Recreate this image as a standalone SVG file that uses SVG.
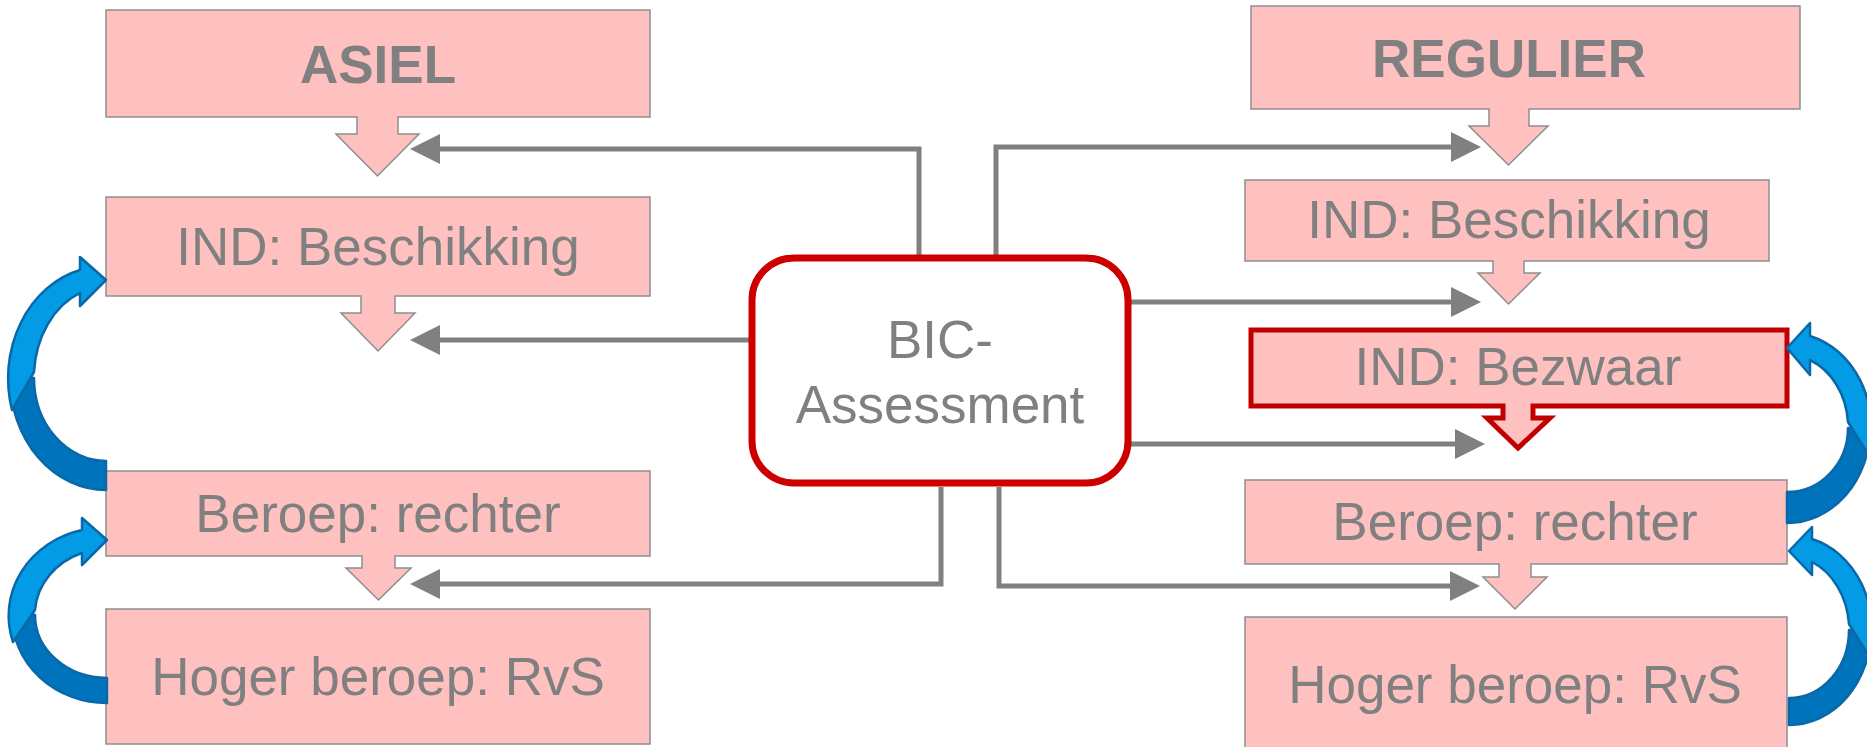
<svg xmlns="http://www.w3.org/2000/svg" width="1867" height="747" viewBox="0 0 1867 747">
<style>
.box{fill:#FFC0C0;stroke:#8E8E8E;stroke-width:1.5}
.hl{fill:#FFC0C0;stroke:#C00000;stroke-width:5;stroke-linejoin:miter}
.bic{fill:#FFFFFF;stroke:#CC0000;stroke-width:7}
.t{font-family:"Liberation Sans",Arial,sans-serif;font-size:53px;fill:#808080;text-anchor:middle}
.b{font-weight:bold}
.conn{fill:none;stroke:#808080;stroke-width:5;marker-end:url(#ah)}
.dk{fill:#0073BD;stroke:#0A68A8;stroke-width:2.5;stroke-linejoin:round}
.lt{fill:#049BE6;stroke:#0A68A8;stroke-width:2.5;stroke-linejoin:round}
</style>
<defs>
<marker id="ah" markerUnits="userSpaceOnUse" markerWidth="30" markerHeight="30" viewBox="0 0 30 30" refX="1" refY="15" orient="auto">
<path d="M0,0 L30,15 L0,30 Z" fill="#808080"/>
</marker>
</defs>
<rect width="1867" height="747" fill="#FFFFFF"/>

<g id="connectors">
<path class="conn" d="M919,256 V149 H439"/>
<path class="conn" d="M750,340 H439"/>
<path class="conn" d="M941,487 V584 H439"/>
<path class="conn" d="M996,256 V147 H1452"/>
<path class="conn" d="M1129,302 H1452"/>
<path class="conn" d="M1129,444 H1456"/>
<path class="conn" d="M999,487 V586 H1451"/>
</g>

<g id="asiel">
<path class="box" d="M106,10 H650 V117 H398 V134 H419 L377.5,176 L336,134 H357 V117 H106 Z"/>
<text class="t b" x="378" y="83">ASIEL</text>
</g>
<g id="asiel-ind">
<path class="box" d="M106,197 H650 V296 H395 V313 H415 L378,351 L341,313 H361 V296 H106 Z"/>
<text class="t" x="378" y="265">IND: Beschikking</text>
</g>
<g id="asiel-beroep">
<path class="box" d="M106,471 H650 V556 H395 V568 H411 L378.5,600 L346,568 H362 V556 H106 Z"/>
<text class="t" x="378" y="532">Beroep: rechter</text>
</g>
<g id="asiel-hoger">
<rect class="box" x="106" y="609" width="544" height="135"/>
<text class="t" x="378" y="695">Hoger beroep: RvS</text>
</g>

<g id="regulier">
<path class="box" d="M1251,6 H1800 V109 H1529 V126 H1548 L1508.5,165 L1469,126 H1489 V109 H1251 Z"/>
<text class="t b" x="1509" y="77">REGULIER</text>
</g>
<g id="regulier-ind">
<path class="box" d="M1245,180 H1769 V261 H1524 V273 H1540 L1508.5,304 L1478,273 H1493 V261 H1245 Z"/>
<text class="t" x="1509" y="238">IND: Beschikking</text>
</g>
<g id="regulier-bezwaar">
<path class="hl" d="M1251,330 H1787 V406 H1533 V418 H1550 L1518,448 L1487,418 H1503 V406 H1251 Z"/>
<text class="t" x="1518" y="385">IND: Bezwaar</text>
</g>
<g id="regulier-beroep">
<path class="box" d="M1245,480 H1787 V564 H1531 V577 H1547 L1515,609 L1483,577 H1499 V564 H1245 Z"/>
<text class="t" x="1515" y="540">Beroep: rechter</text>
</g>
<g id="regulier-hoger">
<rect class="box" x="1245" y="617" width="542" height="140"/>
<text class="t" x="1515" y="703">Hoger beroep: RvS</text>
</g>

<g id="bic">
<rect class="bic" x="752" y="258" width="376" height="225" rx="42" ry="42"/>
<text class="t" x="940" y="358">BIC-</text>
<text class="t" x="940" y="423">Assessment</text>
</g>

<g id="loop-asiel-1">
<path class="dk" d="M106,490 A96,112 0 0 1 10,378 L34,378 A72,83 0 0 0 106,461 Z"/>
<path class="lt" d="M80,270 L80,257 L106,280 L80,306 L80,293 A72,91 0 0 0 34,372 L12,410 A96,112 0 0 1 80,270 Z"/>
</g>
<g id="loop-asiel-2">
<path class="dk" d="M107,703 A95,88 0 0 1 12,615 L35,615 A72,63 0 0 0 107,678 Z"/>
<path class="lt" d="M82,530 L82,518 L107,540 L82,565 L82,553 A72,66 0 0 0 35,610 L13,642 A95,88 0 0 1 82,530 Z"/>
</g>
<g id="loop-regulier-1">
<path class="dk" d="M1787,523 A83,95 0 0 0 1870,428 L1848,428 A61,64 0 0 1 1787,492 Z"/>
<path class="lt" d="M1810,336 L1810,323 L1787,348 L1810,375 L1810,360 A61,73 0 0 1 1848,422 L1868,454 A83,95 0 0 0 1810,336 Z"/>
</g>
<g id="loop-regulier-2">
<path class="dk" d="M1789,725 A82,95 0 0 0 1871,630 L1849,630 A60,68 0 0 1 1789,698 Z"/>
<path class="lt" d="M1812,539 L1812,527 L1789,551 L1812,575 L1812,562 A60,74 0 0 1 1849,624 L1869,656 A82,95 0 0 0 1812,539 Z"/>
</g>
</svg>
